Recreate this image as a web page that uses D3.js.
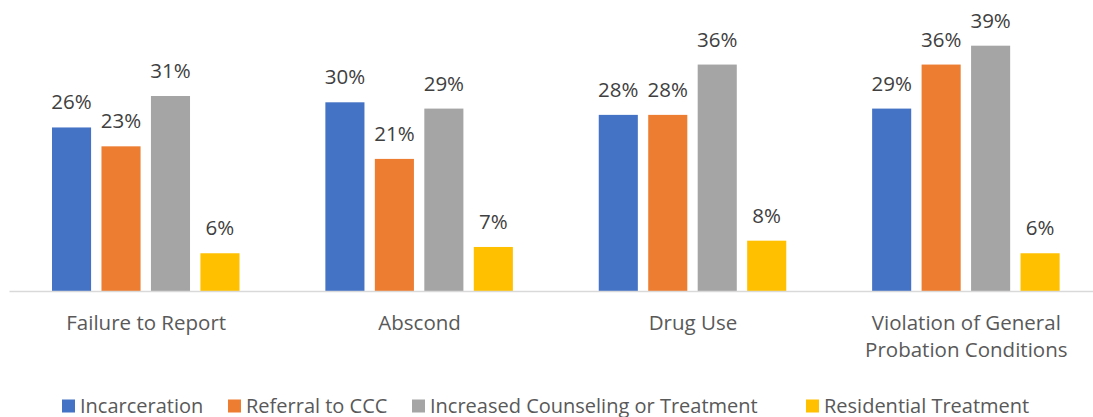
<!DOCTYPE html>
<html>
<head>
<meta charset="utf-8">
<script src="https://cdn.jsdelivr.net/npm/d3@7"></script>
<style>
  html, body { margin: 0; padding: 0; background: #fff; }
  svg { display: block; font-family: "Open Sans", Lato, sans-serif; }
</style>
</head>
<body>
<svg id="chart" width="1093" height="417"></svg>
<script>
// Responses to each violation type, share of cases by action taken
const categories = [
  ["Failure to Report"],
  ["Abscond"],
  ["Drug Use"],
  ["Violation of General", "Probation Conditions"]
];
const seriesNames = [
  "Incarceration",
  "Referral to CCC",
  "Increased Counseling or Treatment",
  "Residential Treatment"
];
const incarceration = [26, 30, 28, 29];
const referralCCC = [23, 21, 28, 36];
const increasedCounseling = [31, 29, 36, 39];
const residentialTreatment = [6, 7, 8, 6];
const seriesColors = ["#4472C4", "#ED7D31", "#A5A5A5", "#FFC000"];

const seriesValues = [incarceration, referralCCC, increasedCounseling, residentialTreatment];
const catKeys = categories.map(c => c.join(" "));

const svg = d3.select("#chart");
const baseY = 291;

const x0 = d3.scaleBand().domain(catKeys).range([9.5, 1103]).paddingInner(0).paddingOuter(0);
const x1 = d3.scaleBand().domain(seriesNames).range([42.5, 230]).paddingInner(0.21).paddingOuter(0);
const y = d3.scaleLinear().domain([0, 40]).range([baseY, baseY - 40 * 6.29]);

const groups = svg.selectAll("g.group")
  .data(catKeys)
  .join("g")
  .attr("class", "group")
  .attr("transform", d => `translate(${x0(d)},0)`);

groups.each(function(cat, ci) {
  const g = d3.select(this);
  const rows = seriesNames.map((s, si) => ({ s, si, v: seriesValues[si][ci] }));
  g.selectAll("rect")
    .data(rows)
    .join("rect")
    .attr("x", d => x1(d.s))
    .attr("y", d => y(d.v))
    .attr("width", x1.bandwidth())
    .attr("height", d => y(0) - y(d.v))
    .attr("fill", d => seriesColors[d.si]);
  g.selectAll("text.val")
    .data(rows)
    .join("text")
    .attr("class", "val")
    .attr("x", d => x1(d.s) + x1.bandwidth() / 2)
    .attr("y", d => y(d.v) - 18)
    .attr("text-anchor", "middle")
    .attr("font-size", 20.5)
    .attr("fill", "#404040")
    .text(d => d.v + "%");
});

// baseline
svg.append("line")
  .attr("x1", 9.5).attr("x2", 1093)
  .attr("y1", baseY + 0.5).attr("y2", baseY + 0.5)
  .attr("stroke", "#D9D9D9").attr("stroke-width", 1.5);

// category labels
const xAxis = svg.append("g");
categories.forEach((lines, i) => {
  const t = xAxis.append("text")
    .attr("x", x0(catKeys[i]) + x0.bandwidth() / 2)
    .attr("y", 330)
    .attr("text-anchor", "middle")
    .attr("font-size", 20.5)
    .attr("fill", "#595959");
  lines.forEach((ln, li) => {
    t.append("tspan")
      .attr("x", x0(catKeys[i]) + x0.bandwidth() / 2)
      .attr("dy", li === 0 ? 0 : 27.3)
      .text(ln);
  });
});

// legend
const legendX = [62, 228, 412, 806];
const legend = svg.append("g");
seriesNames.forEach((s, i) => {
  legend.append("rect")
    .attr("x", legendX[i]).attr("y", 399.5)
    .attr("width", 13).attr("height", 13)
    .attr("fill", seriesColors[i]);
  legend.append("text")
    .attr("x", legendX[i] + 18).attr("y", 412.5)
    .attr("font-size", 20)
    .attr("fill", "#595959")
    .text(s);
});
</script>
</body>
</html>
